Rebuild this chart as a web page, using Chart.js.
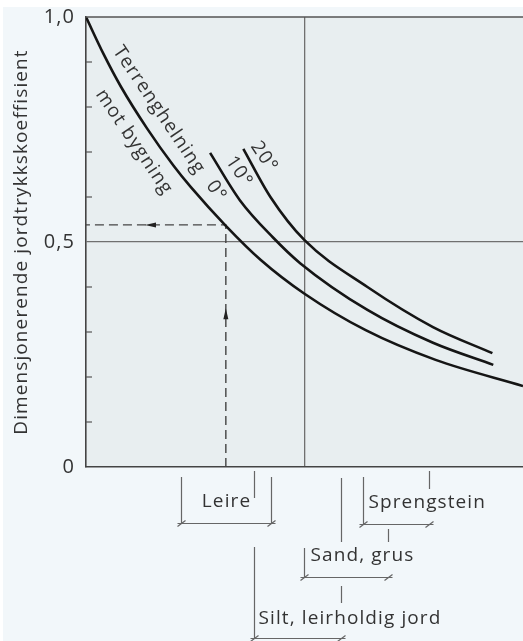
<!DOCTYPE html>
<html>
<head>
<meta charset="utf-8">
<script src="https://cdn.jsdelivr.net/npm/chart.js@4.4.1/dist/chart.umd.min.js"></script>
<style>
  body { margin: 0; background: #fff; }
  #wrap { width: 523px; height: 641px; }
</style>
</head>
<body>
<div id="wrap"><canvas id="myChart" width="523" height="641"></canvas></div>
<script>
// x is a plain horizontal unit (0 = y axis, 50 = right edge), y is the coefficient
var curve0X = [0, 2, 4, 7, 10, 12, 16, 20, 25, 32, 40, 50];
var curve0Y = [1.0, 0.918, 0.845, 0.752, 0.670, 0.622, 0.536, 0.460, 0.385, 0.304, 0.238, 0.18];
var curve10X = [14.2, 17.6, 21.4, 24.5, 32.2, 39.7, 46.6];
var curve10Y = [0.698, 0.593, 0.510, 0.453, 0.349, 0.276, 0.227];
var curve20X = [18.0, 21.1, 25.0, 32.2, 39.7, 46.5];
var curve20Y = [0.707, 0.600, 0.504, 0.400, 0.311, 0.253];

// dashed reading example
var readX = 16;
var readY = 0.538;

var yTickLabels = { 0: '0', 5: '0,5', 10: '1,0' };

// soil ranges under the axis
var soilNames = ['Leire', 'Silt, leirholdig jord', 'Sand, grus', 'Sprengstein'];
var soilFrom = [10.9, 19.2, 24.95, 31.7];
var soilTo = [21.2, 29.2, 34.55, 39.25];

function pts(xs, ys) {
  var out = [];
  for (var i = 0; i < xs.length; i++) out.push({ x: xs[i], y: ys[i] });
  return out;
}

// labels along the curves (data coords)
var curveNotes = [
  { t: 'Terrenghelning', x: 8.35, y: 0.793 },
  { t: 'mot bygning', x: 5.5, y: 0.722 },
  { t: '0°', x: 14.9, y: 0.613 },
  { t: '10°', x: 17.5, y: 0.656 },
  { t: '20°', x: 20.37, y: 0.689 }
];

// offsets below the axis, in px
var bracketLayout = [
  { line: 56, left: [[10, 56]], right: [[10, 56]], text: 35, center: true },
  { line: 171, left: [[4, 31], [80, 171]], right: [[11, 75], [119, 136]], text: 152, dx: 4 },
  { line: 110, left: [[81, 110]], right: [[62, 75]], text: 89, dx: 6 },
  { line: 57, left: [[10, 58]], right: [[4, 22]], text: 36, dx: 5 }
];

var labelFont = '19px "Open Sans"';

function arrow(c, x, y, dx, dy) {
  var len = 11, w = 2.5;
  var bx = x - dx * len, by = y - dy * len;
  c.beginPath();
  c.moveTo(x, y);
  c.lineTo(bx - dy * w, by + dx * w);
  c.lineTo(bx + dy * w, by - dx * w);
  c.closePath();
  c.fill();
}

var decor = {
  id: 'decor',
  beforeDraw: function (chart) {
    var c = chart.ctx, a = chart.chartArea;
    // wider letter spacing like the original typeface
    c.letterSpacing = '1.1px';
    c.save();
    c.fillStyle = '#ffffff';
    c.fillRect(0, 0, chart.width, chart.height);
    c.fillStyle = '#f2f7fa';
    c.fillRect(3, 7, chart.width, chart.height);
    c.fillStyle = '#e8eef0';
    c.fillRect(a.left, a.top, a.right - a.left, a.bottom - a.top);
    c.restore();
  },
  afterDatasetsDraw: function (chart) {
    var c = chart.ctx, xs = chart.scales.x, ys = chart.scales.y;
    c.save();
    c.fillStyle = '#222';
    arrow(c, xs.getPixelForValue(readX), ys.getPixelForValue(0.353), 0, -1);
    arrow(c, xs.getPixelForValue(6.75), ys.getPixelForValue(readY), -1, 0);

    c.fillStyle = '#333';
    c.font = labelFont;
    c.textAlign = 'center';
    c.textBaseline = 'middle';
    curveNotes.forEach(function (n) {
      c.save();
      c.translate(xs.getPixelForValue(n.x), ys.getPixelForValue(n.y));
      c.rotate(56 * Math.PI / 180);
      c.fillText(n.t, 0, 0);
      c.restore();
    });
    c.restore();
  },
  afterDraw: function (chart) {
    var c = chart.ctx, a = chart.chartArea, xs = chart.scales.x, ys = chart.scales.y;
    c.save();
    // top frame line
    c.strokeStyle = '#555';
    c.lineWidth = 1.6;
    c.beginPath();
    c.moveTo(a.left, a.top);
    c.lineTo(a.right, a.top);
    c.stroke();

    // inward minor ticks
    c.lineWidth = 1.2;
    ys.ticks.forEach(function (t) {
      var k = Math.round(t.value * 10);
      if (k === 0 || k === 5 || k === 10) return;
      var py = ys.getPixelForValue(t.value);
      c.beginPath();
      c.moveTo(a.left, py);
      c.lineTo(a.left + 6, py);
      c.stroke();
    });

    // soil brackets
    c.strokeStyle = '#666';
    c.lineWidth = 1.2;
    c.fillStyle = '#333';
    c.font = labelFont;
    c.textBaseline = 'middle';
    var b = a.bottom;
    soilNames.forEach(function (name, i) {
      var L = bracketLayout[i];
      var x1 = Math.round(xs.getPixelForValue(soilFrom[i])) + 0.5;
      var x2 = Math.round(xs.getPixelForValue(soilTo[i])) + 0.5;
      var ly = b + L.line + 0.5;
      c.beginPath();
      L.left.forEach(function (s) { c.moveTo(x1, b + s[0]); c.lineTo(x1, b + s[1]); });
      L.right.forEach(function (s) { c.moveTo(x2, b + s[0]); c.lineTo(x2, b + s[1]); });
      c.moveTo(x1 - 4, ly);
      c.lineTo(x2 + 4, ly);
      [x1, x2].forEach(function (x) { c.moveTo(x - 4, ly + 3); c.lineTo(x + 4, ly - 3); });
      c.stroke();
      if (L.center) {
        c.textAlign = 'center';
        c.fillText(name, (x1 + x2) / 2, b + L.text);
      } else {
        c.textAlign = 'left';
        c.fillText(name, x1 + L.dx, b + L.text);
      }
    });
    c.restore();
  }
};

var curveStyle = { borderColor: '#151515', borderWidth: 2.6, pointRadius: 0, fill: false, cubicInterpolationMode: 'monotone' };

var ctx = document.getElementById('myChart');
var chart = new Chart(ctx, {
  type: 'line',
  data: {
    datasets: [
      Object.assign({ data: pts(curve0X, curve0Y) }, curveStyle),
      Object.assign({ data: pts(curve10X, curve10Y) }, curveStyle),
      Object.assign({ data: pts(curve20X, curve20Y) }, curveStyle),
      {
        data: [{ x: readX, y: 0 }, { x: readX, y: readY }, { x: 0, y: readY }],
        borderColor: '#444', borderWidth: 1.4, borderDash: [9, 5],
        pointRadius: 0, tension: 0, fill: false
      }
    ]
  },
  options: {
    responsive: false,
    animation: false,
    layout: { padding: { top: 17, right: 0, bottom: 174, left: 0 } },
    plugins: { legend: { display: false }, tooltip: { enabled: false } },
    scales: {
      x: {
        type: 'linear', min: 0, max: 50,
        ticks: { display: false, stepSize: 25 },
        grid: {
          color: function (g) { return g.tick && g.tick.value === 25 ? '#707070' : 'transparent'; },
          lineWidth: 1.3, drawTicks: false
        },
        border: { display: true, color: '#444', width: 1.6 },
        afterFit: function (s) { s.height = 0; s.paddingLeft = 0; s.paddingRight = 0; }
      },
      y: {
        type: 'linear', min: 0, max: 1,
        ticks: {
          stepSize: 0.1, autoSkip: false,
          callback: function (v) { return yTickLabels[Math.round(v * 10)] || ''; },
          color: '#333', font: { family: '"Open Sans"', size: 20 }, padding: 11
        },
        grid: {
          color: function (g) { return g.tick && Math.round(g.tick.value * 10) === 5 ? '#707070' : 'transparent'; },
          lineWidth: 1.3, drawTicks: false
        },
        border: { color: '#444', width: 1.6 },
        title: {
          display: true, text: 'Dimensjonerende jordtrykkskoeffisient',
          color: '#333', font: { family: '"Open Sans"', size: 19 }, padding: { top: 10, bottom: 0 }
        },
        afterFit: function (s) { s.width = 86; s.paddingTop = 0; s.paddingBottom = 0; }
      }
    }
  },
  plugins: [decor]
});
</script>
</body>
</html>
